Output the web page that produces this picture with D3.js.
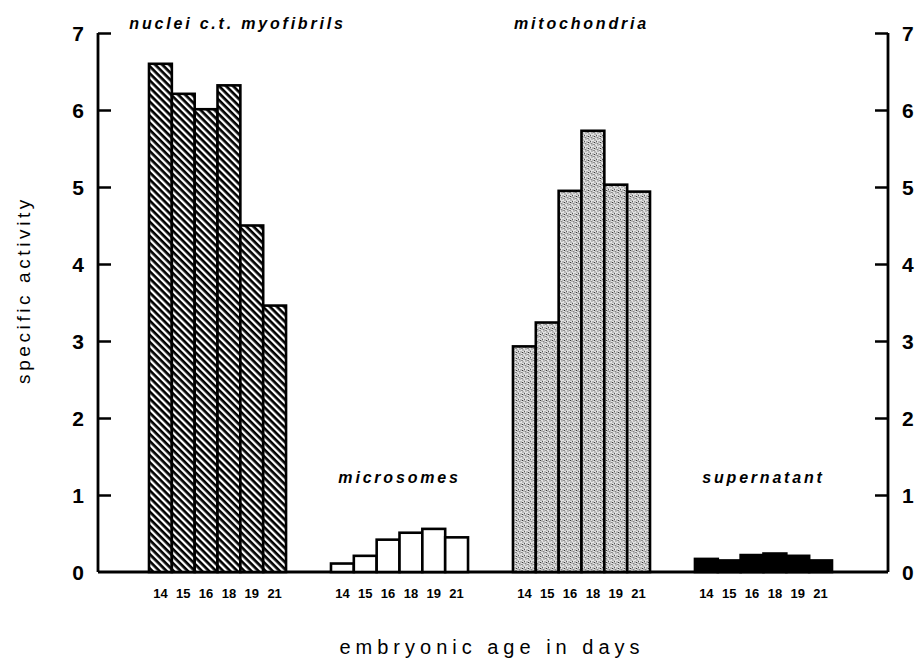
<!DOCTYPE html>
<html>
<head>
<meta charset="utf-8">
<script src="https://cdn.jsdelivr.net/npm/d3@7"></script>
<style>
  body { margin: 0; background: #fff; }
  svg { display: block; }
  text { font-family: "Liberation Sans", Arial, sans-serif; fill: #000; }
</style>
</head>
<body>
<svg id="chart" width="919" height="660"></svg>
<script>
// ---- data ----
const fractions = ["nuclei c.t. myofibrils", "microsomes", "mitochondria", "supernatant"];
const days = ["14", "15", "16", "18", "19", "21"];
const nucleiValues = [6.6, 6.21, 6.01, 6.32, 4.5, 3.46];
const microsomeValues = [0.11, 0.21, 0.42, 0.51, 0.56, 0.45];
const mitochondriaValues = [2.93, 3.24, 4.95, 5.73, 5.03, 4.94];
const supernatantValues = [0.17, 0.15, 0.22, 0.24, 0.21, 0.15];
const yTicks = [0, 1, 2, 3, 4, 5, 6, 7];
const yTitle = "specific activity";
const xTitle = "embryonic age in days";

const seriesValues = [nucleiValues, microsomeValues, mitochondriaValues, supernatantValues];
const fills = ["url(#hatch)", "#ffffff", "url(#stipple)", "#000000"];
const labelPlace = ["top", "mid", "top", "mid"];

const svg = d3.select("#chart");

// ---- patterns ----
const defs = svg.append("defs");
const hatch = defs.append("pattern")
  .attr("id", "hatch").attr("patternUnits", "userSpaceOnUse")
  .attr("width", 5).attr("height", 5)
  .attr("patternTransform", "rotate(45)");
hatch.append("rect").attr("width", 5).attr("height", 5).attr("fill", "#fff");
hatch.append("rect").attr("x", 0).attr("y", 0).attr("width", 5).attr("height", 2.7).attr("fill", "#000");

const stip = defs.append("pattern")
  .attr("id", "stipple").attr("patternUnits", "userSpaceOnUse")
  .attr("width", 6).attr("height", 6);
stip.append("rect").attr("width", 6).attr("height", 6).attr("fill", "#e4e4e4");
const dots = [[0.5,0.5],[3.5,1.5],[1.5,3.5],[4.5,4.5],[2.5,0],[5,2.8],[0.3,5.2],[3,4]];
dots.forEach(d => stip.append("rect").attr("x", d[0]).attr("y", d[1]).attr("width", 1).attr("height", 1).attr("fill", "#333"));

// ---- scales ----
const plotLeft = 98, plotRight = 888, y0 = 572, yTop = 33;
const y = d3.scaleLinear().domain([0, 7]).range([y0, yTop]);
const xGroup = d3.scaleBand().domain(fractions).range([149, 832]).paddingInner(0.247).paddingOuter(0);
const xDay = d3.scaleBand().domain(days).range([0, xGroup.bandwidth()]).padding(0);

// ---- axes ----
const leftAxis = d3.axisRight(y).tickValues(yTicks).tickSize(13).tickFormat("");
const gL = svg.append("g").attr("transform", `translate(${plotLeft},0)`).call(leftAxis);
const rightAxis = d3.axisLeft(y).tickValues(yTicks).tickSize(13).tickFormat("");
const gR = svg.append("g").attr("transform", `translate(${plotRight},0)`).call(rightAxis);
[gL, gR].forEach(g => {
  g.select(".domain").remove();
  g.selectAll(".tick line").attr("stroke", "#000").attr("stroke-width", 2.5);
  g.selectAll(".tick").filter(d => d === 0).remove();
});
svg.append("line").attr("x1", plotLeft).attr("x2", plotLeft).attr("y1", y(7)).attr("y2", y(0))
  .attr("stroke", "#000").attr("stroke-width", 2.8);
svg.append("line").attr("x1", plotRight).attr("x2", plotRight).attr("y1", y(7)).attr("y2", y(0))
  .attr("stroke", "#000").attr("stroke-width", 2.8);
svg.append("line").attr("x1", plotLeft).attr("x2", plotRight).attr("y1", y(0)).attr("y2", y(0))
  .attr("stroke", "#000").attr("stroke-width", 2.8);

// tick labels
svg.append("g").selectAll("text").data(yTicks).join("text")
  .attr("x", 78).attr("y", d => y(d)).attr("dy", "0.36em")
  .attr("text-anchor", "middle").attr("font-size", 21).attr("font-weight", "bold")
  .text(d => d);
svg.append("g").selectAll("text").data(yTicks).join("text")
  .attr("x", 902).attr("y", d => y(d)).attr("dy", "0.36em")
  .attr("text-anchor", "start").attr("font-size", 21).attr("font-weight", "bold")
  .text(d => d);

// ---- bars ----
fractions.forEach((f, i) => {
  const g = svg.append("g").attr("transform", `translate(${xGroup(f)},0)`);
  const vals = seriesValues[i];
  g.selectAll("rect").data(vals).join("rect")
    .attr("x", (d, j) => xDay(days[j]))
    .attr("y", d => y(d))
    .attr("width", xDay.bandwidth())
    .attr("height", d => y(0) - y(d))
    .attr("fill", fills[i])
    .attr("stroke", "#000").attr("stroke-width", 2.6);
  g.selectAll("text.day").data(days).join("text").attr("class", "day")
    .attr("x", d => xDay(d) + xDay.bandwidth() / 2)
    .attr("y", 598)
    .attr("text-anchor", "middle").attr("font-size", 13).attr("font-weight", "bold")
    .text(d => d);
  const cx = xGroup(f) + xGroup.bandwidth() / 2;
  svg.append("text")
    .attr("x", cx + (i === 0 ? 20 : 0))
    .attr("y", labelPlace[i] === "top" ? 29 : 483)
    .attr("text-anchor", "middle")
    .attr("font-size", 16).attr("font-weight", "bold").attr("font-style", "italic")
    .attr("letter-spacing", 2.8)
    .text(f);
});

// ---- titles ----
svg.append("text")
  .attr("transform", `translate(30,290) rotate(-90)`)
  .attr("text-anchor", "middle").attr("font-size", 19).attr("letter-spacing", 3.6)
  .text(yTitle);
svg.append("text")
  .attr("x", 492).attr("y", 654)
  .attr("text-anchor", "middle").attr("font-size", 20).attr("letter-spacing", 5)
  .text(xTitle);
</script>
</body>
</html>
